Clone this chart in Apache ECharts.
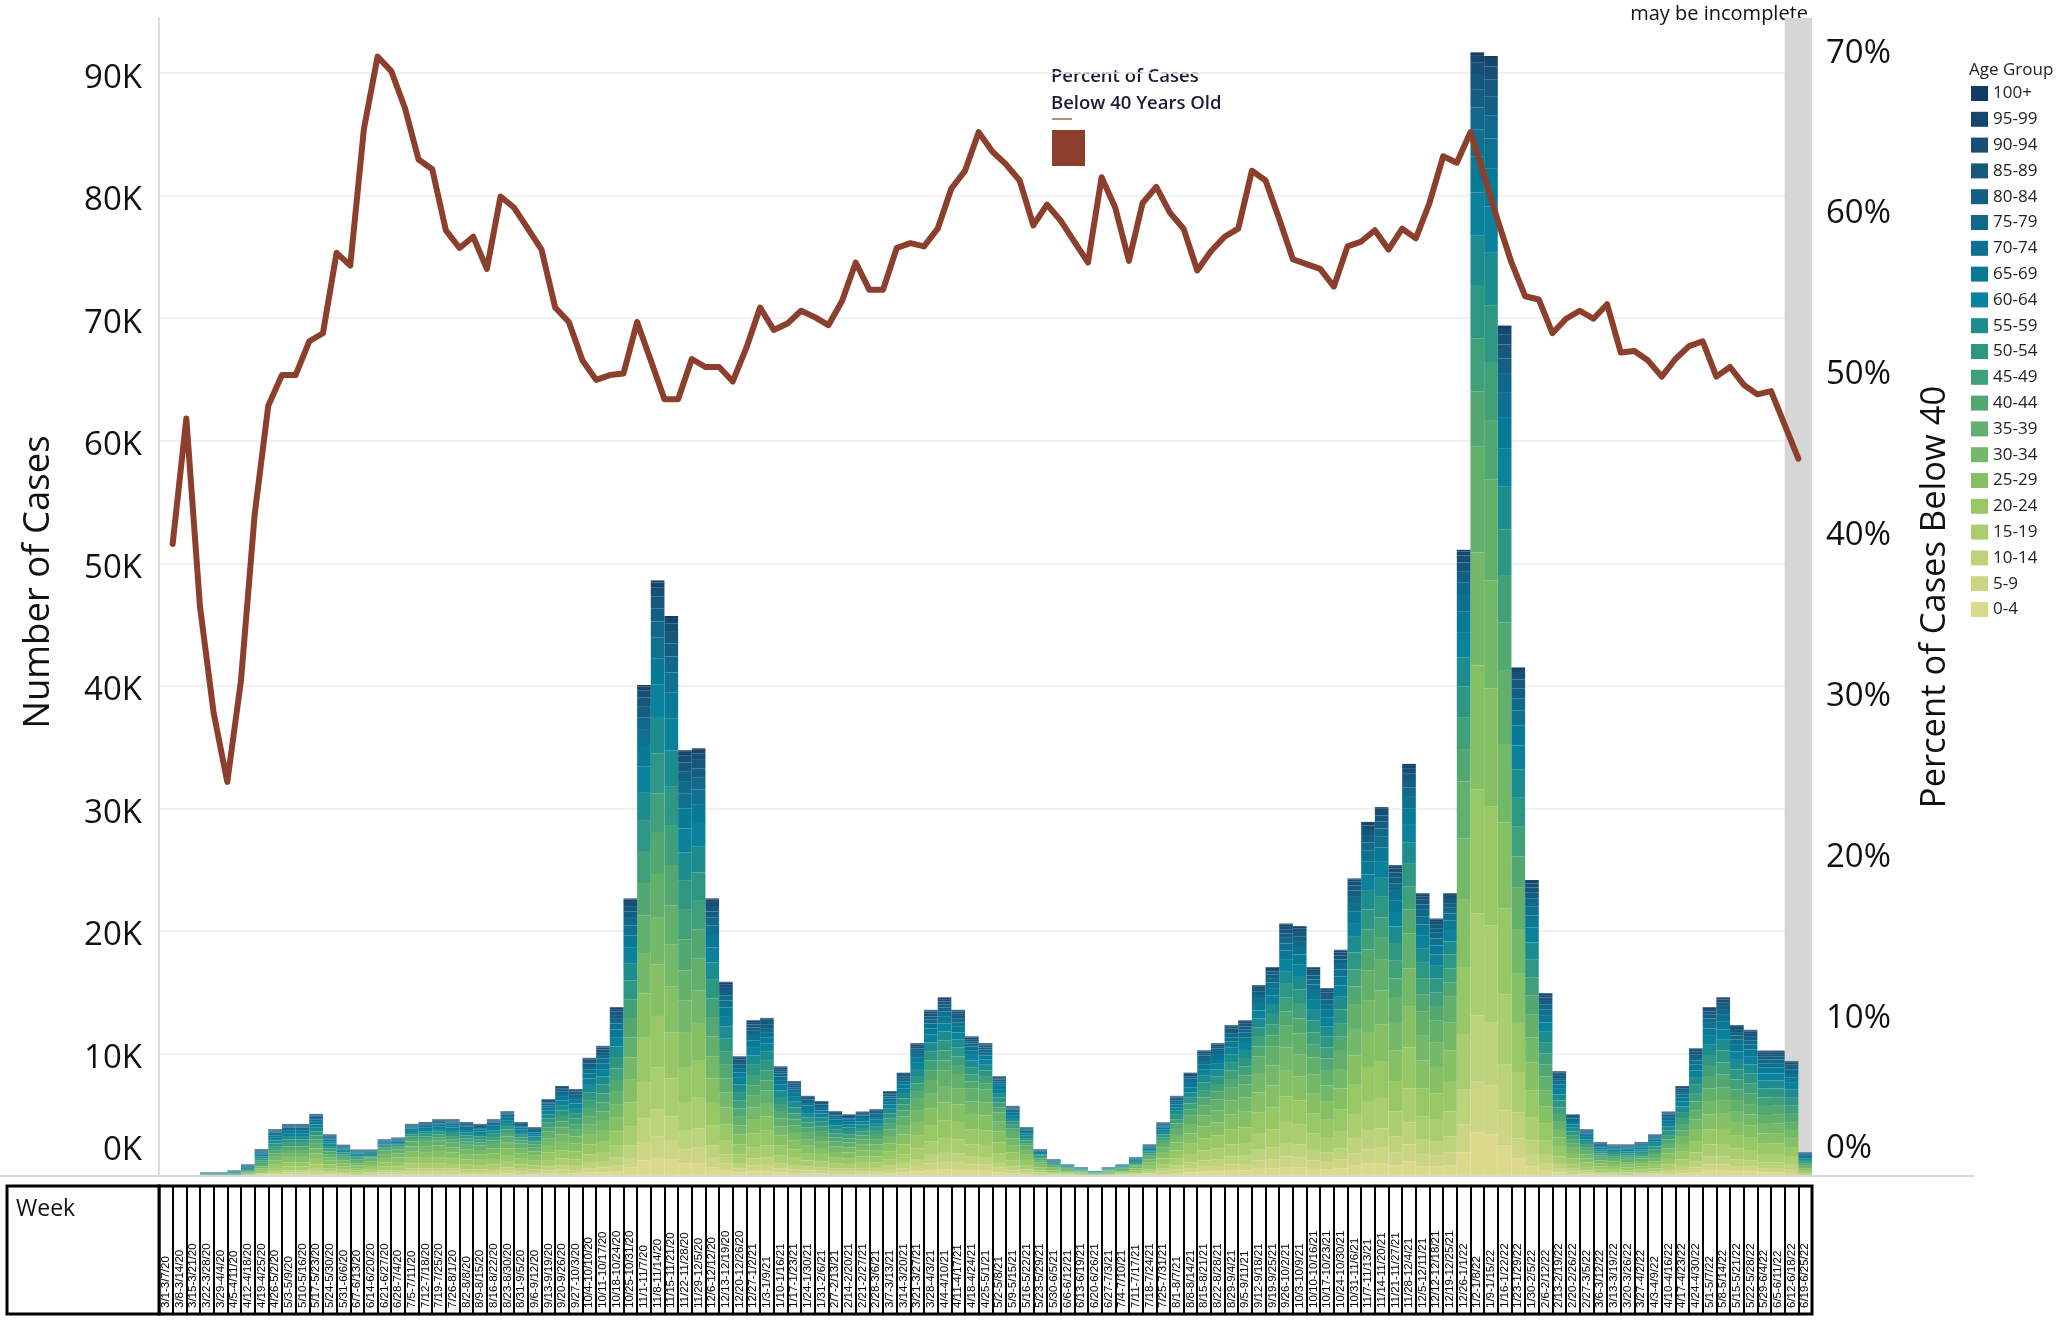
<!DOCTYPE html>
<html>
<head>
<meta charset="utf-8">
<script src="https://cdn.jsdelivr.net/npm/echarts@6/dist/echarts.min.js"></script>
<style>
  body { margin: 0; background: #fff; }
  #chart { width: 2070px; height: 1323px; }
</style>
</head>
<body>
<div id="chart"></div>
<script>
// week labels, one bar per week
const weeks = [
  '3/1-3/7/20', '3/8-3/14/20', '3/15-3/21/20', '3/22-3/28/20', '3/29-4/4/20', '4/5-4/11/20', '4/12-4/18/20',
  '4/19-4/25/20', '4/26-5/2/20', '5/3-5/9/20', '5/10-5/16/20', '5/17-5/23/20', '5/24-5/30/20', '5/31-6/6/20',
  '6/7-6/13/20', '6/14-6/20/20', '6/21-6/27/20', '6/28-7/4/20', '7/5-7/11/20', '7/12-7/18/20', '7/19-7/25/20',
  '7/26-8/1/20', '8/2-8/8/20', '8/9-8/15/20', '8/16-8/22/20', '8/23-8/30/20', '8/31-9/5/20', '9/6-9/12/20',
  '9/13-9/19/20', '9/20-9/26/20', '9/27-10/3/20', '10/4-10/10/20', '10/11-10/17/20', '10/18-10/24/20',
  '10/25-10/31/20', '11/1-11/7/20', '11/8-11/14/20', '11/15-11/21/20', '11/22-11/28/20', '11/29-12/5/20',
  '12/6-12/12/20', '12/13-12/19/20', '12/20-12/26/20', '12/27-1/2/21', '1/3-1/9/21', '1/10-1/16/21',
  '1/17-1/23/21', '1/24-1/30/21', '1/31-2/6/21', '2/7-2/13/21', '2/14-2/20/21', '2/21-2/27/21', '2/28-3/6/21',
  '3/7-3/13/21', '3/14-3/20/21', '3/21-3/27/21', '3/28-4/3/21', '4/4-4/10/21', '4/11-4/17/21', '4/18-4/24/21',
  '4/25-5/1/21', '5/2-5/8/21', '5/9-5/15/21', '5/16-5/22/21', '5/23-5/29/21', '5/30-6/5/21', '6/6-6/12/21',
  '6/13-6/19/21', '6/20-6/26/21', '6/27-7/3/21', '7/4-7/10/21', '7/11-7/17/21', '7/18-7/24/21', '7/25-7/31/21',
  '8/1-8/7/21', '8/8-8/14/21', '8/15-8/21/21', '8/22-8/28/21', '8/29-9/4/21', '9/5-9/11/21', '9/12-9/18/21',
  '9/19-9/25/21', '9/26-10/2/21', '10/3-10/9/21', '10/10-10/16/21', '10/17-10/23/21', '10/24-10/30/21',
  '10/31-11/6/21', '11/7-11/13/21', '11/14-11/20/21', '11/21-11/27/21', '11/28-12/4/21', '12/5-12/11/21',
  '12/12-12/18/21', '12/19-12/25/21', '12/26-1/1/22', '1/2-1/8/22', '1/9-1/15/22', '1/16-1/22/22',
  '1/23-1/29/22', '1/30-2/5/22', '2/6-2/12/22', '2/13-2/19/22', '2/20-2/26/22', '2/27-3/5/22', '3/6-3/12/22',
  '3/13-3/19/22', '3/20-3/26/22', '3/27-4/2/22', '4/3-4/9/22', '4/10-4/16/22', '4/17-4/23/22', '4/24-4/30/22',
  '5/1-5/7/22', '5/8-5/14/22', '5/15-5/21/22', '5/22-5/28/22', '5/29-6/4/22', '6/5-6/11/22', '6/12-6/18/22',
  '6/19-6/25/22'
];

// total cases per week
const totalCases = [
  0, 20, 70, 300, 300, 460, 950, 2190, 3820, 4250, 4250, 5070, 3400, 2550, 2160, 2160, 3000, 3140,
  4250, 4410, 4640, 4640, 4410, 4250, 4640, 5290, 4410, 3990, 6270, 7350, 7090, 9640, 10620, 13790,
  22650, 40070, 48600, 45700, 34740, 34900, 22650, 15850, 9770, 12710, 12900, 8950, 7750, 6540, 6110,
  5290, 5030, 5260, 5460, 6930, 8430, 10850, 13560, 14580, 13560, 11400, 10850, 8140, 5720, 3990, 2190,
  1370, 950, 720, 420, 720, 950, 1540, 2580, 4380, 6540, 8430, 10260, 10850, 12320, 12710, 15590, 17060,
  20600, 20400, 17060, 15330, 18460, 24280, 28900, 30100, 25360, 33630, 23070, 21010, 23070, 51100,
  91700, 91400, 69400, 41500, 24150, 14930, 8560, 5030, 3820, 2780, 2580, 2580, 2780, 3400, 5260, 7350,
  10420, 13790, 14580, 12320, 11930, 10230, 10230, 9380, 1930
];

// percent of cases below 40 years old (line), first week has none
const pctBelow40 = [
  null, 39.3, 47.1, 35.4, 28.8, 24.5, 30.8, 41.1, 47.9, 49.8, 49.8, 51.9, 52.4, 57.4, 56.6, 65.1, 69.6,
  68.7, 66.4, 63.2, 62.6, 58.8, 57.7, 58.4, 56.4, 60.9, 60.2, 58.9, 57.6, 54.0, 53.1, 50.7, 49.5, 49.8,
  49.9, 53.1, 50.7, 48.3, 48.3, 50.8, 50.3, 50.3, 49.4, 51.5, 54.0, 52.6, 53.0, 53.8, 53.4, 52.9, 54.4,
  56.8, 55.1, 55.1, 57.7, 58.0, 57.8, 58.9, 61.4, 62.5, 64.9, 63.7, 62.9, 61.9, 59.1, 60.4, 59.4, 58.1,
  56.8, 62.1, 60.2, 56.9, 60.5, 61.5, 59.9, 58.9, 56.3, 57.5, 58.4, 58.9, 62.5, 61.9, 59.5, 57.0, 56.7,
  56.4, 55.3, 57.8, 58.1, 58.8, 57.6, 58.9, 58.3, 60.5, 63.4, 63.0, 64.9, 62.2, 59.4, 56.8, 54.7, 54.5,
  52.4, 53.3, 53.8, 53.3, 54.2, 51.2, 51.3, 50.7, 49.7, 50.8, 51.6, 51.9, 49.7, 50.3, 49.2, 48.6, 48.8,
  46.7, 44.6
];

const ageGroups = ['0-4', '5-9', '10-14', '15-19', '20-24', '25-29', '30-34', '35-39', '40-44', '45-49',
  '50-54', '55-59', '60-64', '65-69', '70-74', '75-79', '80-84', '85-89', '90-94', '95-99', '100+'];
const ageColors = ['#dcd98d', '#cbd584', '#bcd27b', '#a9cd6f', '#97c865', '#85c164', '#74b969', '#62b06c',
  '#52a870', '#40a07a', '#2e9783', '#1d8c8f', '#0b829c', '#097a96', '#0d718f', '#10688a', '#135f83',
  '#15587c', '#164f75', '#15476d', '#113c65'];

// share of each age group inside the under-40 and over-40 parts (estimated from band heights)
const shareUnder40 = [0.06, 0.07, 0.09, 0.14, 0.17, 0.17, 0.155, 0.145];
const shareOver40 = [0.14, 0.135, 0.135, 0.125, 0.11, 0.09, 0.07, 0.055, 0.045, 0.04, 0.03, 0.018, 0.007];

const FONT = 'Open Sans';
const lineName = 'Percent of Cases Below 40 Years Old';

const barSeries = ageGroups.map(function (g, gi) {
  return {
    name: g,
    type: 'bar',
    stack: 'cases',
    xAxisIndex: 0,
    yAxisIndex: 0,
    barCategoryGap: '0%',
    itemStyle: { color: ageColors[gi] },
    emphasis: { disabled: true },
    data: totalCases.map(function (t, i) {
      const p = (pctBelow40[i] || 0) / 100;
      const under = t * p;
      const over = t - under;
      return gi < 8 ? Math.round(under * shareUnder40[gi]) : Math.round(over * shareOver40[gi - 8]);
    })
  };
});

const chart = echarts.init(document.getElementById('chart'));

chart.setOption({
  backgroundColor: '#fff',
  animation: false,
  textStyle: { fontFamily: FONT },
  grid: [
    { left: 159, top: 18, width: 1653, height: 1158, outerBoundsMode: 'none' },
    { left: 159, top: 1186, width: 1653, height: 128, show: true, borderColor: '#000', borderWidth: 3,
      backgroundColor: '#fff', outerBoundsMode: 'none' }
  ],
  legend: [
    {
      data: ageGroups.slice().reverse(),
      orient: 'vertical',
      left: 1971,
      top: 85,
      padding: 0,
      itemWidth: 17,
      itemHeight: 15,
      itemGap: 8.8,
      icon: 'rect',
      selectedMode: false,
      textStyle: { fontFamily: FONT, fontSize: 17, color: '#222' }
    },
    {
      data: [lineName],
      left: 1052,
      top: 130,
      padding: 0,
      itemWidth: 33,
      itemHeight: 36,
      icon: 'rect',
      selectedMode: false,
      formatter: function () { return ''; }
    }
  ],
  xAxis: [
    { type: 'category', gridIndex: 0, data: weeks, show: false },
    { type: 'category', gridIndex: 0, data: weeks.concat(['end']), boundaryGap: false, show: false },
    {
      type: 'category', gridIndex: 1, data: weeks, position: 'bottom',
      axisLine: { show: false },
      axisTick: { show: false },
      axisLabel: {
        inside: true, rotate: 90, interval: 0, margin: 6,
        fontFamily: 'Liberation Sans', fontSize: 11.5, color: '#000'
      },
      splitLine: { show: true, interval: 0, lineStyle: { color: '#000', width: 2 } }
    }
  ],
  yAxis: [
    {
      type: 'value', gridIndex: 0, min: 0, max: 94500, interval: 10000,
      name: 'Number of Cases', nameLocation: 'middle', nameGap: 102,
      nameTextStyle: { fontFamily: FONT, fontSize: 36.5, color: '#111', padding: [0, 0, 0, 30] },
      axisLine: { show: true, lineStyle: { color: '#d0d0d0', width: 1.5 } },
      axisTick: { show: false },
      axisLabel: {
        margin: 17, showMaxLabel: false, fontFamily: FONT, fontSize: 33, color: '#111',
        padding: [10, 0, 0, 0],
        formatter: function (v) { return v === 0 ? '{z|0K}' : (v / 1000) + 'K'; },
        rich: { z: { fontFamily: FONT, fontSize: 33, color: '#111', padding: [0, 0, 61, 0] } }
      },
      splitLine: { show: true, showMaxLine: false, lineStyle: { color: '#ececec', width: 1.5 } }
    },
    {
      type: 'value', gridIndex: 0, min: 0, max: 72, interval: 10, position: 'right',
      name: 'Percent of Cases Below 40', nameLocation: 'middle', nameGap: 106, nameRotate: 90,
      nameTextStyle: { fontFamily: FONT, fontSize: 34.5, color: '#111' },
      axisLine: { show: false },
      axisTick: { show: false },
      splitLine: { show: false },
      axisLabel: {
        margin: 14, showMaxLabel: false, fontFamily: FONT, fontSize: 33, color: '#111',
        padding: [6, 0, 0, 0],
        formatter: function (v) { return v === 0 ? '{z|0%}' : v + '%'; },
        rich: { z: { fontFamily: FONT, fontSize: 33, color: '#111', padding: [0, 0, 60, 0] } }
      }
    },
    { type: 'value', gridIndex: 1, min: 0, max: 1, show: false }
  ],
  series: barSeries.concat([
    {
      name: lineName,
      type: 'line',
      xAxisIndex: 1,
      yAxisIndex: 1,
      data: pctBelow40.concat([null]),
      symbol: 'none',
      z: 5,
      itemStyle: { color: '#8c3f2d' },
      lineStyle: { color: '#8c3f2d', width: 6, cap: 'round', join: 'round' },
      emphasis: { disabled: true },
      markArea: {
        silent: true,
        itemStyle: { color: '#d6d6d6' },
        data: [[{ xAxis: weeks[119] }, { xAxis: 'end' }]]
      }
    }
  ]),
  graphic: [
    { type: 'line', shape: { x1: 0, y1: 1176, x2: 1974, y2: 1176 }, style: { stroke: '#d6d6d6', lineWidth: 2 }, z: 10 },
    { type: 'rect', shape: { x: 7, y: 1186, width: 152, height: 128 }, style: { fill: '#fff', stroke: '#000', lineWidth: 3 } },
    { type: 'text', left: 16, top: 1198, style: { text: 'Week', fontFamily: FONT, fontSize: 23, fill: '#111' } },
    { type: 'text', right: 262, top: 4, style: { text: 'may be incomplete', fontFamily: FONT, fontSize: 20, fill: '#111' } },
    { type: 'text', left: 1969, top: 62, style: { text: 'Age Group', fontFamily: FONT, fontSize: 17, fill: '#222' } },
    {
      type: 'text', left: 1051, top: 63,
      style: {
        text: 'Percent of Cases\nBelow 40 Years Old', fontFamily: FONT, fontSize: 18.5, fontWeight: 600,
        lineHeight: 27, fill: '#1d1b38'
      }
    },
    { type: 'line', shape: { x1: 1052, y1: 119, x2: 1072, y2: 119 }, style: { stroke: '#8c3f2d', lineWidth: 1.2 } }
  ]
});
</script>
</body>
</html>
